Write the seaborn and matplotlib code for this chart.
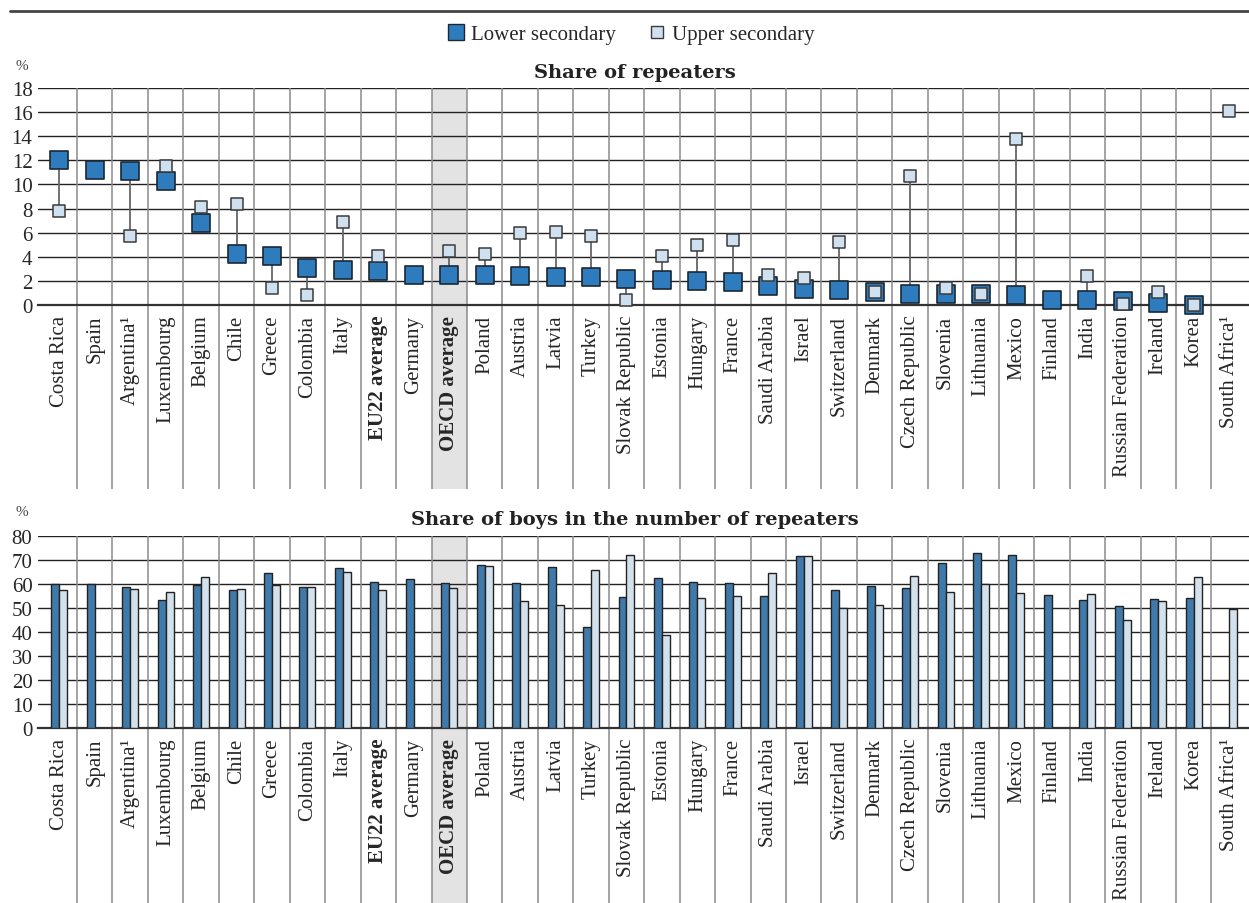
import numpy as np
import pandas as pd
import seaborn as sns
import matplotlib.pyplot as plt
from matplotlib.lines import Line2D
from matplotlib.patches import Rectangle

nan = np.nan

countries = ['Costa Rica', 'Spain', 'Argentina¹', 'Luxembourg', 'Belgium', 'Chile', 'Greece',
             'Colombia', 'Italy', 'EU22 average', 'Germany', 'OECD average', 'Poland', 'Austria',
             'Latvia', 'Turkey', 'Slovak Republic', 'Estonia', 'Hungary', 'France', 'Saudi Arabia',
             'Israel', 'Switzerland', 'Denmark', 'Czech Republic', 'Slovenia', 'Lithuania', 'Mexico',
             'Finland', 'India', 'Russian Federation', 'Ireland', 'Korea', 'South Africa¹']
levels = ['Lower secondary', 'Upper secondary']

# share of repeaters (%)
rep_lower = [12.0, 11.2, 11.1, 10.3, 6.8, 4.25, 4.1, 3.05, 2.9, 2.8, 2.5, 2.45, 2.45, 2.4,
             2.35, 2.3, 2.15, 2.05, 2.0, 1.9, 1.6, 1.3, 1.25, 1.1, 0.95, 0.95, 0.9, 0.8,
             0.4, 0.4, 0.3, 0.2, 0.0, nan]
rep_upper = [7.8, nan, 5.7, 11.5, 8.15, 8.35, 1.4, 0.85, 6.9, 4.1, nan, 4.5, 4.25, 5.95,
             6.05, 5.7, 0.4, 4.1, 4.95, 5.4, 2.45, 2.2, 5.2, 1.1, 10.7, 1.4, 0.9, 13.8,
             nan, 2.4, 0.1, 1.1, 0.0, 16.1]

# share of boys in the number of repeaters (%)
boys_lower = [59.8, 59.8, 58.9, 53.5, 59.6, 57.7, 64.5, 58.9, 66.5, 60.9, 61.9, 60.3, 68.1, 60.6,
              67.0, 42.2, 54.6, 62.3, 61.0, 60.6, 55.2, 71.6, 57.4, 59.1, 58.5, 68.6, 73.0, 71.9,
              55.5, 53.5, 50.7, 53.6, 54.3, nan]
boys_upper = [57.3, nan, 58.0, 56.6, 63.1, 57.8, 59.4, 58.9, 65.2, 57.3, nan, 58.4, 67.3, 52.9,
              51.1, 65.9, 71.9, 38.7, 54.3, 55.2, 64.5, 71.6, 50.2, 51.4, 63.3, 56.8, 60.2, 56.4,
              nan, 55.7, 45.0, 53.1, 62.8, 49.6]

blue = '#2e7bbd'
light = '#cfe1f0'

sns.set_theme(style='white')
plt.rcParams['font.family'] = ['Liberation Serif', 'DejaVu Serif']

n = len(countries)
pos = np.arange(n)
rep = pd.DataFrame({'pos': pos, 'lower': rep_lower, 'upper': rep_upper})
boys = pd.DataFrame({'country': countries * 2,
                     'level': [levels[0]] * n + [levels[1]] * n,
                     'value': boys_lower + boys_upper}).dropna()

W, H = 1249, 904
fig = plt.figure(figsize=(W / 100, H / 100), dpi=100)
ax1 = fig.add_axes([38 / W, 1 - 306 / H, 1 - 38 / W, 217 / H])
ax2 = fig.add_axes([38 / W, 1 - 729 / H, 1 - 38 / W, 192 / H])

# top: share of repeaters
both = rep.dropna()
ax1.vlines(both['pos'], both['lower'], both['upper'], colors='#666666', lw=1.3, zorder=3)
sns.scatterplot(data=rep, x='pos', y='lower', marker='s', s=150, color=blue,
                edgecolor='#1b2733', linewidth=1.2, ax=ax1, zorder=4, clip_on=False)
sns.scatterplot(data=rep, x='pos', y='upper', marker='s', s=70, color=light,
                edgecolor='#3a3a3a', linewidth=1.1, ax=ax1, zorder=5, clip_on=False)
ax1.set_ylim(0, 18)
ax1.set_yticks(range(0, 19, 2))

# bottom: share of boys
sns.barplot(data=boys, x='country', y='value', hue='level', order=countries,
            hue_order=levels, palette=[blue, light], width=0.45, errorbar=None,
            edgecolor='#222222', linewidth=1, ax=ax2, legend=False, zorder=3)
ax2.set_ylim(0, 80)
ax2.set_yticks(range(0, 81, 10))

for ax, ext in [(ax1, -0.848), (ax2, -0.911)]:
    ax.add_patch(Rectangle((10.5, ext), 1, 1 - ext, transform=ax.get_xaxis_transform(),
                           facecolor='#e3e3e3', edgecolor='none', zorder=0, clip_on=False))
    ax.vlines(pos[:-1] + 0.5, ext, 1, transform=ax.get_xaxis_transform(),
              colors='#8a8a8a', lw=1.1, zorder=1, clip_on=False)
    ax.set_xlim(-0.6, 33.56)
    ax.set_xticks(pos)
    ax.set_xticklabels(countries, rotation=90, fontsize=15, va='top')
    for lab in ax.get_xticklabels():
        if 'average' in lab.get_text():
            lab.set_fontweight('bold')
    ax.tick_params(axis='x', length=0, pad=7)
    ax.tick_params(axis='y', length=0, pad=4, labelsize=15)
    ax.grid(axis='y', color='#222222', lw=1)
    ax.grid(axis='x', visible=False)
    ax.set_axisbelow(True)
    for s in ['left', 'right', 'top']:
        ax.spines[s].set_visible(False)
    ax.spines['bottom'].set_color('#333333')
    ax.spines['bottom'].set_linewidth(1.6)
    ax.set_xlabel('')
    ax.set_ylabel('')
    ax.set_facecolor('none')

fig.text(635 / W, 1 - 73 / H, 'Share of repeaters', ha='center', va='center',
         family='DejaVu Serif', fontweight='bold', fontsize=14, color='#222222')
fig.text(635 / W, 1 - 520 / H, 'Share of boys in the number of repeaters', ha='center',
         va='center', family='DejaVu Serif', fontweight='bold', fontsize=14, color='#222222')
fig.text(22 / W, 1 - 67 / H, '%', ha='center', va='center', fontsize=11, color='#444444')
fig.text(22 / W, 1 - 513 / H, '%', ha='center', va='center', fontsize=11, color='#444444')

fig.add_artist(Line2D([10 / W, 1], [1 - 12 / H] * 2, color='#444444', lw=2))

handles = [Line2D([], [], marker='s', ls='', markersize=11, markerfacecolor=blue,
                  markeredgecolor='#1b2733'),
           Line2D([], [], marker='s', ls='', markersize=8, markerfacecolor=light,
                  markeredgecolor='#3a3a3a')]
fig.legend(handles, levels, loc='center', bbox_to_anchor=(630 / W, 1 - 35 / H), ncol=2,
           frameon=False, fontsize=15, handletextpad=0.2, columnspacing=1.5,
           handlelength=1.0)

fig.savefig('out.png', dpi=100)
